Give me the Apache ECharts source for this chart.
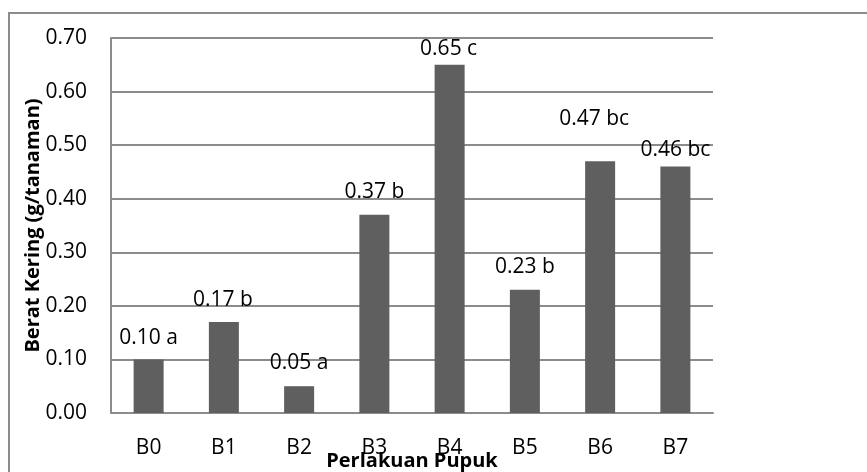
<!DOCTYPE html>
<html>
<head>
<meta charset="utf-8">
<script src="https://cdn.jsdelivr.net/npm/echarts@6/dist/echarts.min.js"></script>
<style>
html,body{margin:0;padding:0;background:#fff;}
#chart{width:867px;height:472px;}
</style>
</head>
<body>
<div id="chart"></div>
<script>
const categories = ['B0','B1','B2','B3','B4','B5','B6','B7'];
const values = [0.10, 0.17, 0.05, 0.37, 0.65, 0.23, 0.47, 0.46];
const letters = ['a','b','a','b','c','b','bc','bc'];
const yTicks = {min: 0, max: 0.7, interval: 0.1};

// label placement (layout only)
const labelDistance = [11, 11, 13, 12, 5, 12, 32, 6];
const labelShiftX = [0, -1, 0, 0, -1, 0, -6, 0];

const chart = echarts.init(document.getElementById('chart'));
const fontFam = '"Open Sans", "Noto Sans", sans-serif';
const gridColor = '#8c8c8c';

const data = values.map((v, i) => ({
  value: v,
  label: {distance: labelDistance[i], offset: [labelShiftX[i], 0]}
}));

chart.setOption({
  animation: false,
  backgroundColor: '#fff',
  graphic: [{
    type: 'rect',
    shape: {x: 9, y: 13, width: 900, height: 520},
    style: {fill: 'none', stroke: gridColor, lineWidth: 2},
    silent: true, z: -1
  }],
  grid: {left: 111, right: 154, top: 38, bottom: 59, containLabel: false, outerBoundsMode: 'none'},
  xAxis: {
    type: 'category',
    data: categories,
    axisLine: {show: true, lineStyle: {color: gridColor, width: 2}},
    axisTick: {show: false},
    axisLabel: {color: '#000', fontFamily: fontFam, fontSize: 21, lineHeight: 21, margin: 25},
    name: 'Perlakuan Pupuk',
    nameLocation: 'middle',
    nameGap: 38,
    nameMoveOverlap: false,
    nameTextStyle: {color: '#000', fontFamily: fontFam, fontSize: 20, fontWeight: 'bold', lineHeight: 20}
  },
  yAxis: {
    type: 'value',
    min: yTicks.min, max: yTicks.max, interval: yTicks.interval,
    axisLine: {show: true, lineStyle: {color: gridColor, width: 2}},
    axisTick: {show: false},
    splitLine: {show: true, lineStyle: {color: gridColor, width: 2}},
    axisLabel: {color: '#000', fontFamily: fontFam, fontSize: 21, margin: 24,
      formatter: v => v.toFixed(2)},
    name: 'Berat Kering (g/tanaman)',
    nameLocation: 'middle',
    nameGap: 68,
    nameMoveOverlap: false,
    nameTextStyle: {color: '#000', fontFamily: fontFam, fontSize: 20, fontWeight: 'bold', lineHeight: 20}
  },
  series: [{
    type: 'bar',
    data: data,
    barWidth: 30,
    itemStyle: {color: '#5f5f5f'},
    label: {
      show: true,
      position: 'top',
      color: '#000',
      fontFamily: fontFam,
      fontSize: 21,
      lineHeight: 21,
      formatter: p => p.value.toFixed(2) + ' ' + letters[p.dataIndex]
    }
  }]
});
</script>
</body>
</html>
